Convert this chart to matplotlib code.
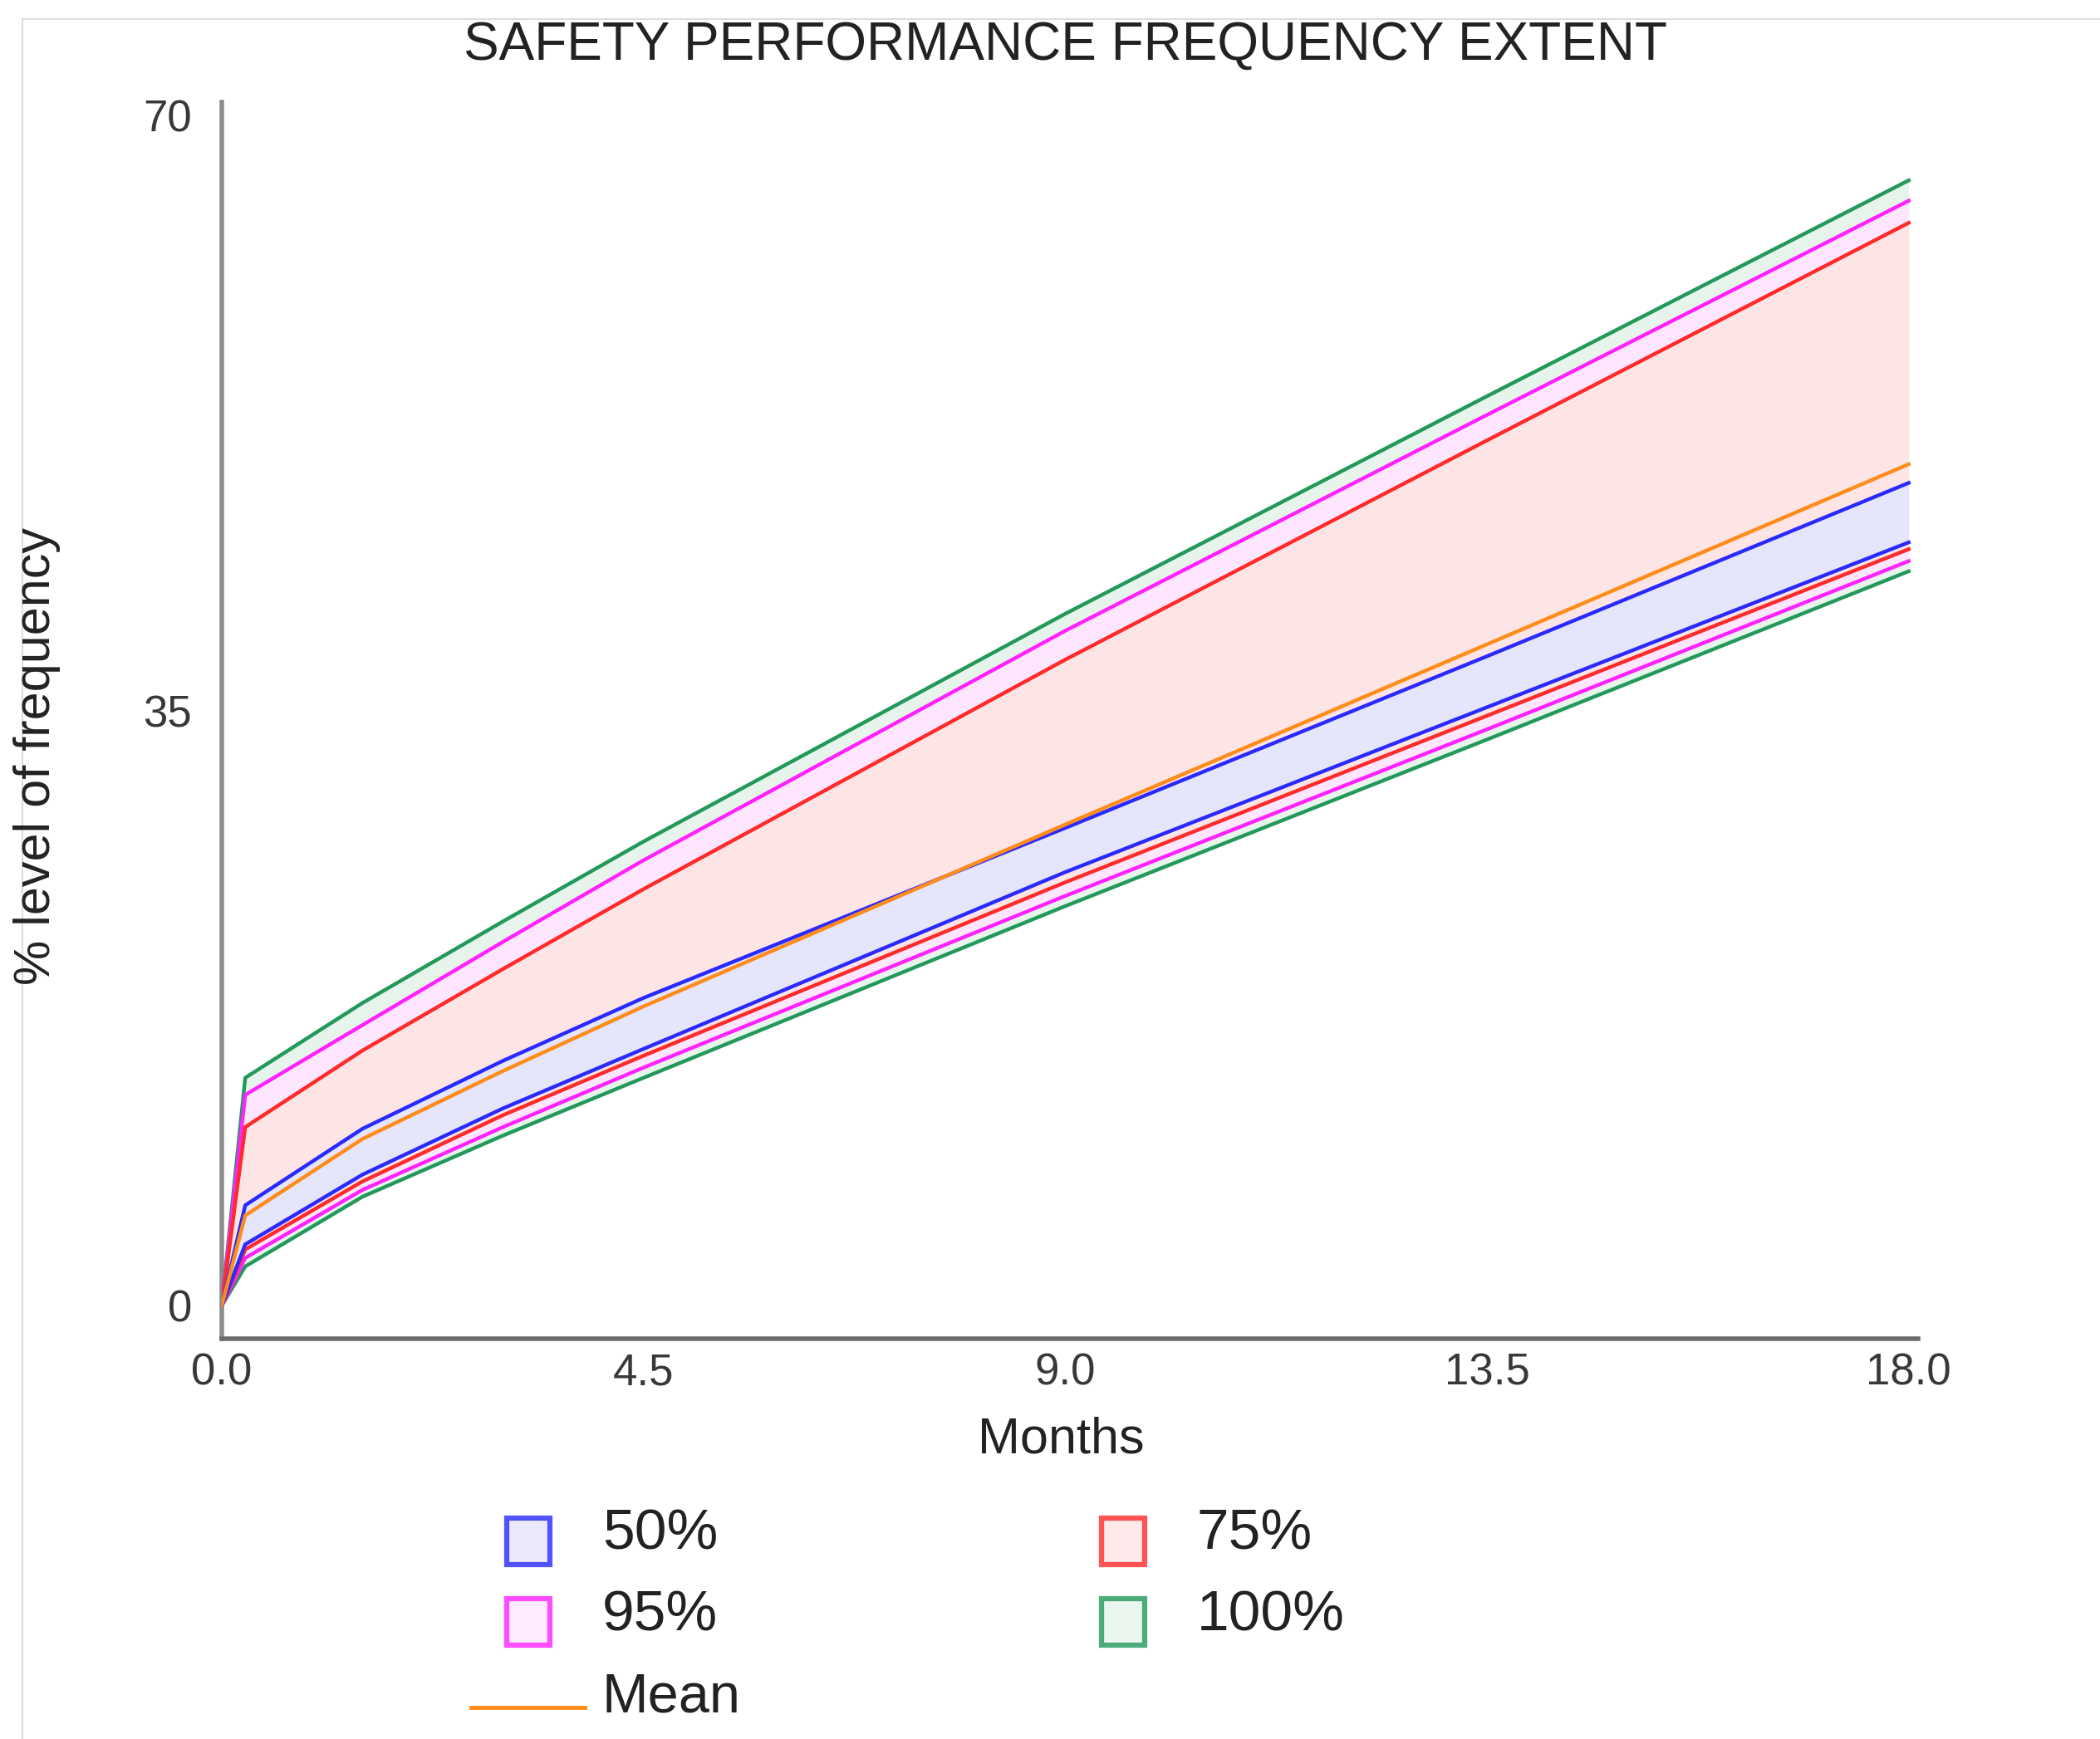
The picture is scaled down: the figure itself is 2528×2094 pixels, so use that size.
import numpy as np
import matplotlib
matplotlib.use("Agg")
import matplotlib.pyplot as plt
from matplotlib.patches import Rectangle
from matplotlib.lines import Line2D

plt.rcParams['font.family'] = ['Liberation Sans', 'DejaVu Sans']

# months
months = [0, 0.25, 1.5, 3, 4.5, 9, 13.5, 18]

# bands (upper / lower)
p100_hi = [0, 13.4, 17.8, 22.6, 27.3, 40.7, 53.5, 66.2]
p95_hi = [0, 12.4, 16.5, 21.4, 26.2, 39.7, 52.4, 65.0]
p75_hi = [0, 10.5, 15.0, 19.8, 24.5, 38.0, 50.9, 63.7]
p50_hi = [0, 5.9, 10.4, 14.4, 18.1, 28.1, 38.2, 48.4]
mean = [0, 5.3, 9.8, 13.8, 17.6, 28.3, 38.9, 49.5]
p50_lo = [0, 3.6, 7.7, 11.6, 15.1, 25.5, 35.2, 44.9]
p75_lo = [0, 3.3, 7.3, 11.2, 14.7, 24.9, 34.7, 44.5]
p95_lo = [0, 2.8, 6.8, 10.5, 14.0, 24.1, 33.9, 43.8]
p100_lo = [0, 2.3, 6.4, 10.0, 13.4, 23.5, 33.3, 43.2]

x_ticks = [0.0, 4.5, 9.0, 13.5, 18.0]
y_ticks = [0, 35, 70]

bands = [
    ("100%", p100_hi, p100_lo, "#22995a", "#e6f4eb"),
    ("95%", p95_hi, p95_lo, "#ff22ff", "#ffe6ff"),
    ("75%", p75_hi, p75_lo, "#ff2a2a", "#fee5e5"),
    ("50%", p50_hi, p50_lo, "#2a2aff", "#e5e5fc"),
]
mean_color = "#ff8c1a"

W, H = 2528, 2094
fig = plt.figure(figsize=(W / 100, H / 100), dpi=100)
ax = fig.add_axes([267 / W, 1 - 1612 / H, (2309 - 267) / W, (1612 - 123) / H])

for name, hi, lo, lc, fc in bands:
    ax.fill_between(months, lo, hi, color=fc, lw=0, zorder=1)
for name, hi, lo, lc, fc in bands:
    ax.plot(months, hi, color=lc, lw=3.2, zorder=3)
    ax.plot(months, lo, color=lc, lw=3.2, zorder=3)
ax.plot(months, mean, color=mean_color, lw=3.2, zorder=4)

ax.set_xlim(0, 18.1)
ax.set_ylim(-1.95, 70.8)
ax.set_xticks(x_ticks)
ax.set_xticklabels(["%.1f" % v for v in x_ticks])
ax.set_yticks(y_ticks)
ax.tick_params(length=0, labelsize=38, labelcolor="#383838")
ax.tick_params(axis="y", pad=26)
ax.tick_params(axis="x", pad=12)
for s in ["top", "right"]:
    ax.spines[s].set_visible(False)
ax.spines["left"].set_color("#8c8c8c")
ax.spines["left"].set_linewidth(4)
ax.spines["bottom"].set_color("#6b6b6b")
ax.spines["bottom"].set_linewidth(4)

fig.text(1282 / W, 1 - 55 / H, "SAFETY PERFORMANCE FREQUENCY EXTENT",
         ha="center", va="center", fontsize=46, color="#222222")
fig.text(1277 / W, 1 - 1734 / H, "Months", ha="center", va="center",
         fontsize=44, color="#222222")
fig.text(45 / W, 1 - 910 / H, "% level of frequency", ha="center", va="center",
         rotation=90, fontsize=44, color="#222222")

# legend drawn by hand
leg = {"50%": (636, 1856), "75%": (1352, 1856), "95%": (636, 1953), "100%": (1352, 1953)}
bw, bh = 52, 56
for name, hi, lo, lc, fc in bands:
    cx, cy = leg[name]
    fig.add_artist(Rectangle(((cx - bw / 2) / W, 1 - (cy + bh / 2) / H), bw / W, bh / H,
                             transform=fig.transFigure, facecolor=fc, edgecolor=lc,
                             lw=4.5, alpha=0.8))
    fig.text((cx + 89) / W, 1 - (cy - 8) / H, name, ha="left", va="center",
             fontsize=50, color="#222222")
fig.add_artist(Line2D([567 / W, 704 / W], [1 - 2056 / H, 1 - 2056 / H],
                      transform=fig.transFigure, color=mean_color, lw=3.5))
fig.text(725 / W, 1 - 2045 / H, "Mean", ha="left", va="center", fontsize=48,
         color="#222222")

# thin frame lines at top and left
fig.add_artist(Line2D([27 / W, 1], [1 - 23 / H, 1 - 23 / H], transform=fig.transFigure,
                      color="#dddddd", lw=1.5))
fig.add_artist(Line2D([27 / W, 27 / W], [0, 1 - 23 / H], transform=fig.transFigure,
                      color="#dddddd", lw=1.5))

fig.savefig("out.png", dpi=100, facecolor="white")
